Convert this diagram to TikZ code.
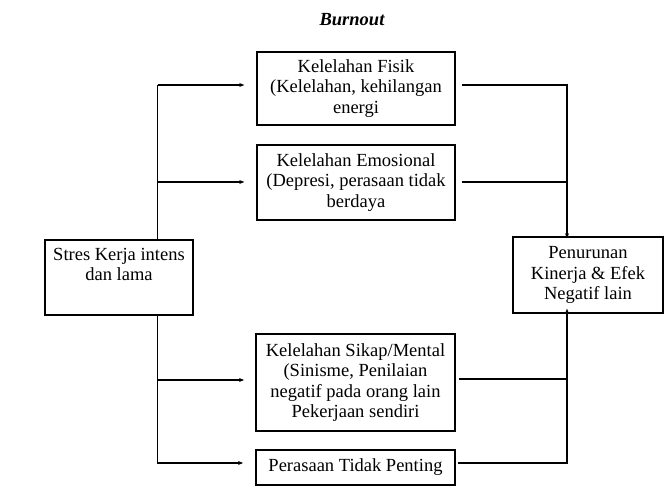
\documentclass[tikz,border=0pt]{standalone}
\usepackage{fontspec}
\setmainfont{Liberation Serif}
\usetikzlibrary{arrows.meta}
\begin{document}
\begin{tikzpicture}[x=1pt,y=-1pt,
  box/.style={draw, line width=1.4pt, align=center, inner sep=0pt,
    font=\fontsize{18.5}{20.5}\selectfont},
  thick box/.style={box, line width=1.9pt},
  link/.style={line width=1.2pt},
  arr/.style={link, -{Stealth[length=5pt,width=4pt]}},
  ttl/.style={font=\fontsize{18.5}{20.5}\selectfont\bfseries\itshape}]
\useasboundingbox (0,0) rectangle (668,500);

\node[ttl] (title) at (352,20) {Burnout};

\node[box, minimum width=198pt, minimum height=73pt] (fisik) at (356,88.5)
  {Kelelahan Fisik\\(Kelelahan, kehilangan\\energi};
\node[box, minimum width=198pt, minimum height=75pt] (emo) at (356,182.5)
  {Kelelahan Emosional\\(Depresi, perasaan tidak\\berdaya};
\node[box, minimum width=148pt, minimum height=75pt] (stres) at (119,277.5)
  {Stres Kerja intens\\dan lama\\\strut};
\node[box, minimum width=150pt, minimum height=76pt] (turun) at (588,275)
  {Penurunan\\Kinerja \& Efek\\Negatif lain};
\node[thick box, minimum width=199pt, minimum height=97pt] (sikap) at (355.5,382.5)
  {Kelelahan Sikap/Mental\\(Sinisme, Penilaian\\negatif pada orang lain\\Pekerjaan sendiri};
\node[thick box, minimum width=199pt, minimum height=35pt] (rasa) at (355.5,467.5)
  {Perasaan Tidak Penting};

% left spine
\coordinate (L1) at (157.5,85);
\coordinate (L2) at (157.5,182);
\coordinate (L3) at (157.5,380);
\coordinate (L4) at (157.5,463);
\draw[link] (stres.north -| L1) -- (L1);
\draw[arr] (L1) -- ([xshift=-12pt]fisik.west |- L1);
\draw[arr] (L2) -- ([xshift=-12pt]emo.west |- L2);
\draw[arr] (stres.south -| L4) -- (L4) -- ([xshift=-12pt]rasa.west |- L4);
\draw[arr] (L3) -- ([xshift=-11pt]sikap.west |- L3);

% right spine
\coordinate (R1) at (567,85);
\coordinate (R2) at (567,182);
\coordinate (R3) at (567,379);
\coordinate (R4) at (567,463);
\draw[arr] ([xshift=6pt]fisik.east |- R1) -- (R1) -- ([yshift=-2pt]turun.north -| R1);
\draw[link] ([xshift=6pt]emo.east |- R2) -- (R2);
\draw[link] ([xshift=3pt]sikap.east |- R3) -- (R3);
\draw[arr] ([xshift=2pt]rasa.east |- R4) -- (R4) -- ([yshift=5pt]turun.south -| R4);
\end{tikzpicture}
\end{document}
